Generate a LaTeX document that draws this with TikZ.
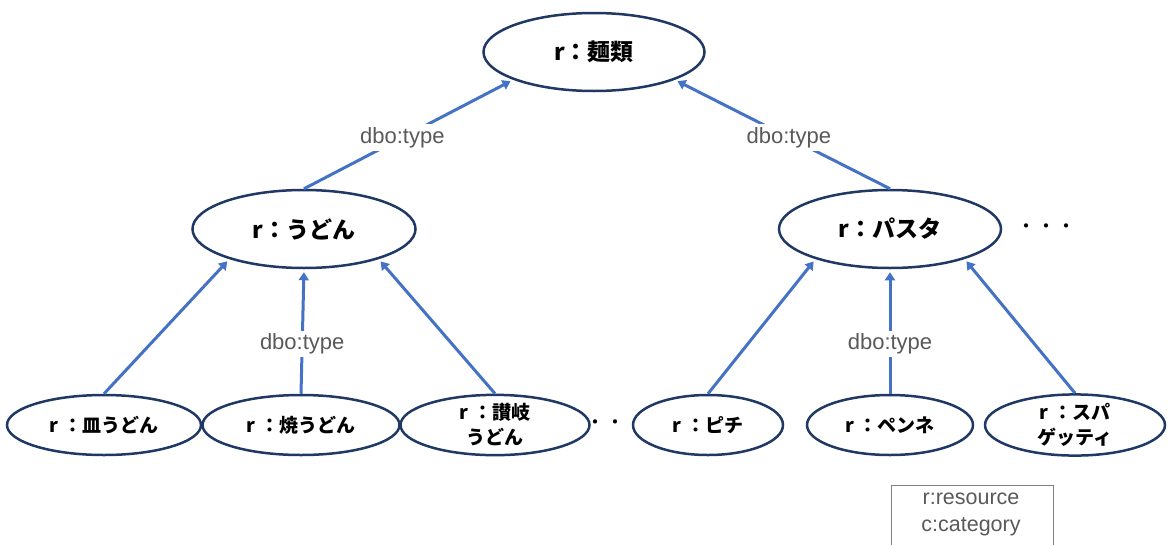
\documentclass[tikz,border=0pt]{standalone}
\usepackage{fontspec}
\setmainfont{Liberation Sans}
\newfontfamily\jp{Noto Sans CJK JP}
\usetikzlibrary{arrows.meta,shapes.geometric}
\definecolor{navy}{HTML}{203864}
\definecolor{typeblue}{HTML}{4472C4}
\definecolor{labelgrey}{HTML}{595959}
\begin{document}
\begin{tikzpicture}[x=1pt,y=-1pt,
    res/.style={ellipse,draw=navy,line width=2.5pt,inner sep=0pt,align=center,
      font=\jp\bfseries\fontsize{23}{26}\selectfont},
    leaf/.style={res,minimum height=60,font=\jp\bfseries\fontsize{19}{25}\selectfont},
    isa/.style={typeblue,line width=3pt,shorten >=3pt,-{Triangle[length=8pt,width=10pt]}},
    rel/.style={fill=white,text=labelgrey,inner sep=3pt,font=\fontsize{22}{24}\selectfont}]
\useasboundingbox (0,0) rectangle (1169,544);
% classes
    \node[res,minimum width=221,minimum height=78] (men) at (594,52) {r：麺類};
    \node[res,minimum width=223,minimum height=78] (udon) at (304,229) {r：うどん};
    \node[res,minimum width=222,minimum height=78] (pasta) at (890,229) {r：パスタ};
% instances
    \node[leaf,minimum width=194] (sara) at (104,425) {r ：皿うどん};
    \node[leaf,minimum width=197] (yaki) at (301,425) {r ：焼うどん};
    \node[leaf,minimum width=189] (sanuki) at (495,425) {r ：讃岐\\うどん};
    \node[leaf,minimum width=150] (pici) at (708,425) {r ：ピチ};
    \node[leaf,minimum width=166] (penne) at (890,425) {r ：ペンネ};
    \node[leaf,minimum width=180] (spag) at (1075,425) {r ：スパ\\ゲッティ};
    \node[font=\jp\fontsize{20}{20}\selectfont] (moreclass) at (1046,229) {・・・};
    \node[font=\jp\fontsize{20}{20}\selectfont] (moreudon) at (605,425) {・・};
% dbo:type links
    \draw[isa] (udon.north) -- node[rel,pos=0.47] {dbo:type} (men.199);
    \draw[isa] (pasta.north) -- node[rel,pos=0.47] {dbo:type} (men.341);
    \draw[isa] (sara.north) -- (udon.202);
    \draw[isa] (yaki.north) -- node[rel,pos=0.4] {dbo:type} (udon.south);
    \draw[isa] (sanuki.north) -- (udon.338);
    \draw[isa] (pici.north) -- (pasta.202);
    \draw[isa] (penne.north) -- node[rel,pos=0.4] {dbo:type} (pasta.south);
    \draw[isa] (spag.north) -- (pasta.338);
% key
    \draw[gray,line width=0.9pt] (891,550) |- (1053,485) -- (1053,550);
    \node[text=labelgrey,align=center,font=\fontsize{21.5}{27}\selectfont] (key) at (971,514) {r:resource\\c:category};
\end{tikzpicture}
\end{document}
